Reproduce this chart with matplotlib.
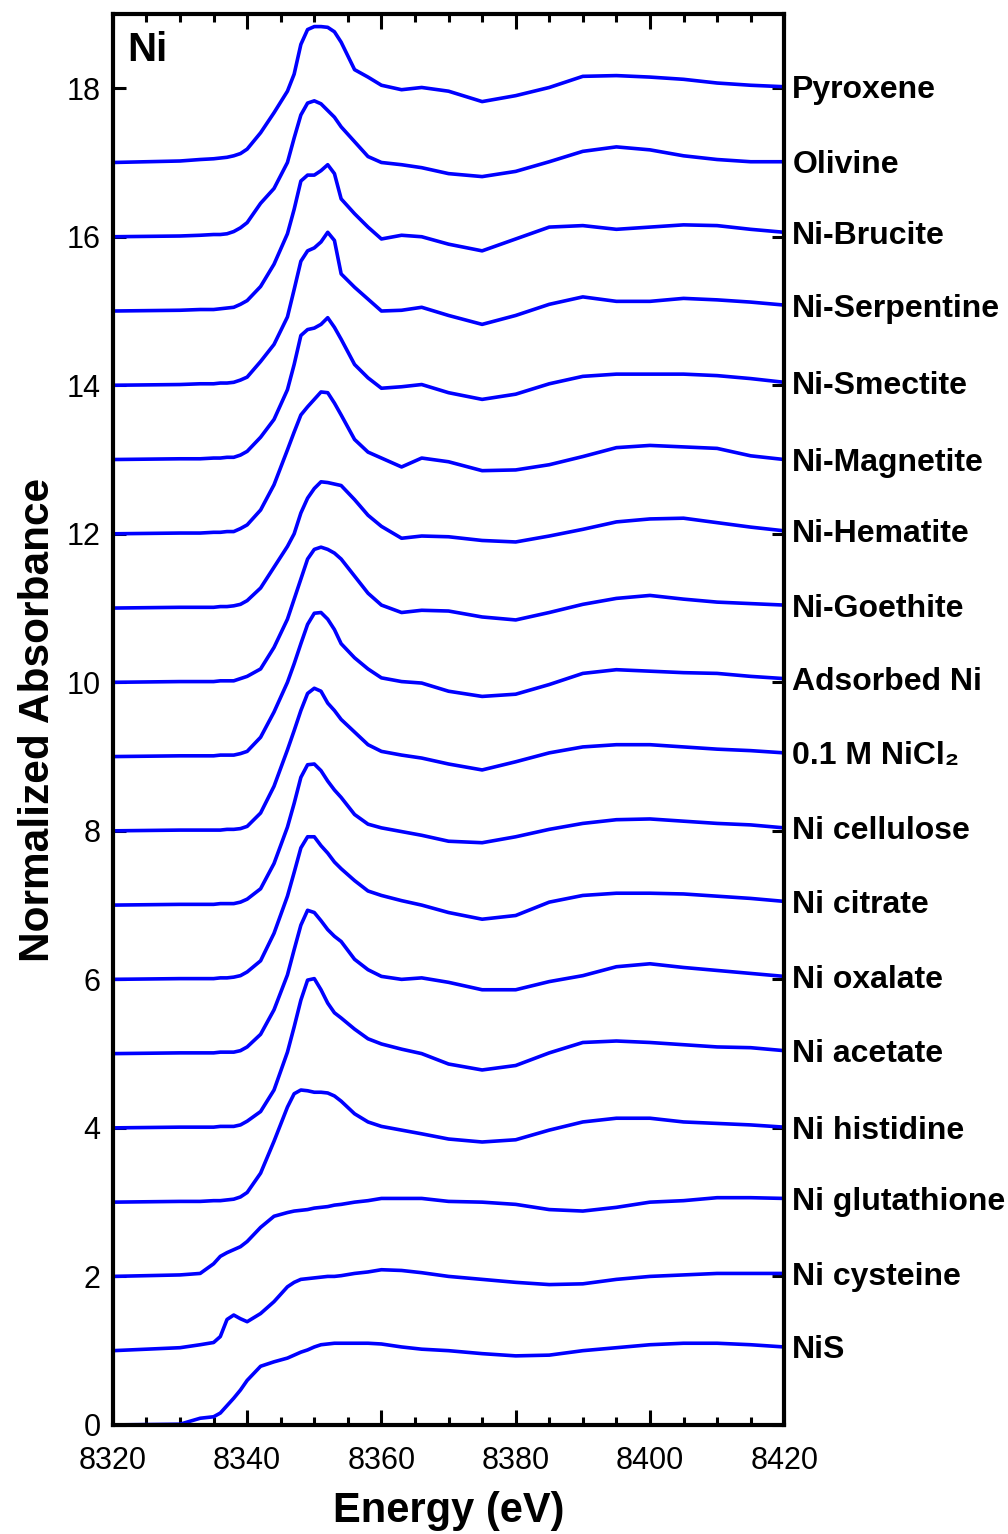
import numpy as np
import matplotlib
matplotlib.use('Agg')
import matplotlib.pyplot as plt
from matplotlib.ticker import MultipleLocator

plt.rcParams['font.family'] = ['Liberation Sans', 'DejaVu Sans']

# energy grid (eV) the spectra were read on
energy = [8320, 8330, 8333, 8335, 8336, 8337, 8338, 8339, 8340, 8342, 8344, 8346,
          8347, 8348, 8349, 8350, 8351, 8352, 8353, 8354, 8356, 8358, 8360, 8363,
          8366, 8370, 8375, 8380, 8385, 8390, 8395, 8400, 8405, 8410, 8415, 8420]

# normalized absorbance, bottom to top
nis = [0.00, 0.01, 0.09, 0.11, 0.16, 0.26, 0.36, 0.47, 0.60, 0.79, 0.85, 0.90,
       0.94, 0.98, 1.01, 1.05, 1.08, 1.09, 1.10, 1.10, 1.10, 1.10, 1.09, 1.05,
       1.02, 1.00, 0.96, 0.93, 0.94, 1.00, 1.04, 1.08, 1.10, 1.10, 1.08, 1.05]
cysteine = [0.00, 0.04, 0.08, 0.11, 0.19, 0.42, 0.48, 0.43, 0.39, 0.50, 0.66, 0.86,
            0.92, 0.96, 0.97, 0.98, 0.99, 1.00, 1.00, 1.01, 1.04, 1.06, 1.09, 1.08,
            1.05, 1.00, 0.96, 0.92, 0.89, 0.90, 0.96, 1.00, 1.02, 1.04, 1.04, 1.04]
glutathione = [0.00, 0.02, 0.04, 0.17, 0.27, 0.32, 0.36, 0.40, 0.47, 0.66, 0.81, 0.86,
               0.88, 0.89, 0.90, 0.92, 0.93, 0.94, 0.96, 0.97, 1.00, 1.02, 1.05, 1.05,
               1.05, 1.01, 1.00, 0.97, 0.90, 0.88, 0.93, 1.00, 1.02, 1.06, 1.06, 1.05]
histidine = [0.00, 0.01, 0.01, 0.02, 0.02, 0.03, 0.04, 0.07, 0.13, 0.39, 0.82, 1.28,
             1.46, 1.51, 1.50, 1.48, 1.48, 1.47, 1.43, 1.36, 1.19, 1.08, 1.02, 0.97,
             0.92, 0.85, 0.81, 0.84, 0.97, 1.08, 1.13, 1.13, 1.08, 1.06, 1.04, 1.01]
acetate = [0.00, 0.01, 0.01, 0.01, 0.02, 0.02, 0.02, 0.04, 0.09, 0.22, 0.51, 1.02,
           1.36, 1.72, 1.99, 2.01, 1.86, 1.68, 1.55, 1.48, 1.33, 1.20, 1.13, 1.06,
           1.00, 0.86, 0.78, 0.84, 1.01, 1.15, 1.17, 1.15, 1.12, 1.09, 1.08, 1.04]
oxalate = [0.00, 0.01, 0.01, 0.01, 0.02, 0.02, 0.02, 0.04, 0.09, 0.26, 0.59, 1.06,
           1.40, 1.73, 1.93, 1.90, 1.79, 1.67, 1.58, 1.51, 1.27, 1.13, 1.04, 1.00,
           1.02, 0.96, 0.86, 0.86, 0.97, 1.05, 1.17, 1.21, 1.16, 1.12, 1.08, 1.04]
citrate = [0.00, 0.01, 0.01, 0.01, 0.02, 0.02, 0.03, 0.05, 0.10, 0.25, 0.62, 1.12,
           1.44, 1.77, 1.92, 1.92, 1.80, 1.70, 1.58, 1.49, 1.33, 1.19, 1.13, 1.06,
           1.00, 0.90, 0.81, 0.86, 1.04, 1.13, 1.16, 1.16, 1.15, 1.12, 1.09, 1.05]
cellulose = [0.00, 0.01, 0.01, 0.01, 0.02, 0.02, 0.02, 0.04, 0.08, 0.22, 0.56, 1.05,
             1.37, 1.72, 1.89, 1.90, 1.81, 1.67, 1.55, 1.45, 1.22, 1.09, 1.04, 0.99,
             0.94, 0.86, 0.84, 0.92, 1.02, 1.10, 1.15, 1.16, 1.13, 1.10, 1.08, 1.04]
nicl2 = [0.00, 0.01, 0.01, 0.01, 0.01, 0.02, 0.02, 0.03, 0.06, 0.24, 0.60, 1.09,
         1.35, 1.62, 1.85, 1.92, 1.88, 1.72, 1.62, 1.50, 1.33, 1.16, 1.07, 1.02,
         0.98, 0.90, 0.82, 0.93, 1.05, 1.13, 1.16, 1.16, 1.13, 1.10, 1.08, 1.05]
adsorbed = [0.00, 0.01, 0.01, 0.01, 0.02, 0.02, 0.02, 0.04, 0.07, 0.26, 0.60, 1.00,
            1.25, 1.52, 1.78, 1.93, 1.94, 1.85, 1.71, 1.52, 1.33, 1.18, 1.06, 1.01,
            0.99, 0.88, 0.81, 0.84, 0.97, 1.12, 1.17, 1.15, 1.13, 1.12, 1.08, 1.05]
goethite = [0.00, 0.01, 0.01, 0.01, 0.02, 0.02, 0.02, 0.05, 0.08, 0.18, 0.47, 0.85,
            1.12, 1.39, 1.66, 1.79, 1.82, 1.79, 1.74, 1.66, 1.43, 1.20, 1.04, 0.94,
            0.97, 0.96, 0.88, 0.84, 0.94, 1.05, 1.13, 1.17, 1.12, 1.08, 1.06, 1.04]
hematite = [0.00, 0.01, 0.01, 0.01, 0.02, 0.02, 0.03, 0.05, 0.10, 0.27, 0.55, 0.83,
            1.00, 1.28, 1.48, 1.61, 1.70, 1.69, 1.67, 1.65, 1.46, 1.25, 1.10, 0.94,
            0.97, 0.96, 0.91, 0.89, 0.97, 1.06, 1.16, 1.20, 1.21, 1.15, 1.09, 1.04]
magnetite = [0.00, 0.01, 0.01, 0.02, 0.02, 0.03, 0.03, 0.07, 0.12, 0.32, 0.66, 1.13,
             1.37, 1.60, 1.71, 1.81, 1.91, 1.90, 1.76, 1.60, 1.27, 1.10, 1.02, 0.90,
             1.02, 0.97, 0.85, 0.86, 0.93, 1.04, 1.16, 1.19, 1.17, 1.15, 1.05, 1.00]
smectite = [0.00, 0.01, 0.01, 0.02, 0.02, 0.03, 0.03, 0.06, 0.11, 0.30, 0.54, 0.94,
            1.28, 1.67, 1.75, 1.77, 1.82, 1.91, 1.78, 1.62, 1.28, 1.10, 0.96, 0.98,
            1.01, 0.90, 0.81, 0.88, 1.02, 1.12, 1.15, 1.15, 1.15, 1.13, 1.09, 1.04]
serpentine = [0.00, 0.01, 0.02, 0.02, 0.03, 0.03, 0.04, 0.07, 0.11, 0.32, 0.55, 0.92,
              1.29, 1.67, 1.81, 1.85, 1.93, 2.06, 1.95, 1.50, 1.32, 1.16, 1.00, 1.01,
              1.05, 0.94, 0.82, 0.94, 1.09, 1.19, 1.13, 1.13, 1.17, 1.15, 1.12, 1.08]
brucite = [0.00, 0.01, 0.02, 0.02, 0.03, 0.04, 0.05, 0.09, 0.14, 0.33, 0.63, 1.04,
           1.37, 1.75, 1.83, 1.83, 1.89, 1.97, 1.85, 1.51, 1.31, 1.13, 0.97, 1.02,
           1.00, 0.90, 0.81, 0.97, 1.13, 1.15, 1.10, 1.13, 1.16, 1.15, 1.10, 1.06]
olivine = [0.00, 0.01, 0.02, 0.03, 0.03, 0.04, 0.07, 0.12, 0.19, 0.45, 0.65, 1.00,
           1.33, 1.64, 1.80, 1.83, 1.79, 1.70, 1.61, 1.48, 1.28, 1.08, 1.00, 0.97,
           0.93, 0.85, 0.81, 0.88, 1.01, 1.15, 1.21, 1.17, 1.09, 1.04, 1.01, 1.01]
pyroxene = [0.00, 0.02, 0.04, 0.05, 0.06, 0.07, 0.09, 0.12, 0.18, 0.40, 0.67, 0.96,
            1.19, 1.59, 1.79, 1.83, 1.83, 1.82, 1.76, 1.62, 1.25, 1.15, 1.04, 0.98,
            1.01, 0.96, 0.82, 0.90, 1.01, 1.16, 1.17, 1.15, 1.12, 1.07, 1.04, 1.02]

spectra = [nis, cysteine, glutathione, histidine, acetate, oxalate, citrate, cellulose,
           nicl2, adsorbed, goethite, hematite, magnetite, smectite, serpentine,
           brucite, olivine, pyroxene]
names = ['NiS', 'Ni cysteine', 'Ni glutathione', 'Ni histidine', 'Ni acetate',
         'Ni oxalate', 'Ni citrate', 'Ni cellulose', '0.1 M NiCl\u2082', 'Adsorbed Ni',
         'Ni-Goethite', 'Ni-Hematite', 'Ni-Magnetite', 'Ni-Smectite', 'Ni-Serpentine',
         'Ni-Brucite', 'Olivine', 'Pyroxene']
offsets = list(range(len(spectra)))

fig = plt.figure(figsize=(10.08, 15.34), dpi=100)
ax = fig.add_axes([0.112, 0.0711, 0.666, 0.9198])

E = np.array(energy)
for spec, off, name in zip(spectra, offsets, names):
    y = np.array(spec) + off
    ax.plot(E, y, color='#0000ff', lw=2.6, solid_joinstyle='round')
    ax.text(1.012, y[-1], name, transform=ax.get_yaxis_transform(),
            fontsize=23, fontweight='bold', va='center_baseline', ha='left')

ax.set_xlim(8320, 8420)
ax.set_ylim(0, 19)
ax.xaxis.set_major_locator(MultipleLocator(20))
ax.xaxis.set_minor_locator(MultipleLocator(5))
ax.yaxis.set_major_locator(MultipleLocator(2))
ax.tick_params(axis='x', which='major', direction='in', top=True, bottom=True,
               length=11, width=2.2, labelsize=22, pad=15)
ax.tick_params(axis='x', which='minor', direction='in', top=True, bottom=True,
               length=6, width=2.2)
ax.tick_params(axis='y', which='major', direction='in', left=True, right=True,
               length=9, width=2.2, labelsize=22, pad=9)
for sp in ax.spines.values():
    sp.set_linewidth(3)

ax.set_xlabel('Energy (eV)', fontsize=30, fontweight='bold', labelpad=11)
ax.set_ylabel('Normalized Absorbance', fontsize=30.5, fontweight='bold', labelpad=6)
ax.text(0.022, 0.988, 'Ni', transform=ax.transAxes, fontsize=29,
        fontweight='bold', va='top', ha='left')

fig.savefig('out.png', dpi=100)
